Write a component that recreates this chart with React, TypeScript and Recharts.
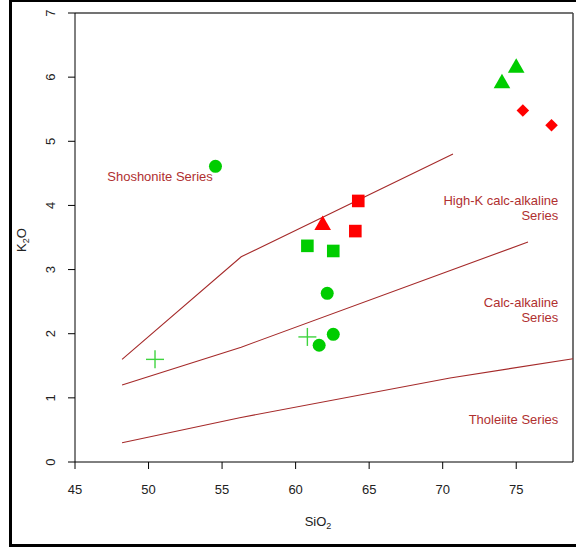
import { ScatterChart, Scatter, XAxis, YAxis, ReferenceLine } from 'recharts'

document.body.style.margin = '0'

const FONT = "Arial, 'Liberation Sans', sans-serif"
const BROWN = '#A52A2A'
const GREEN = '#00CD00'
const RED = '#FF0000'

const xTicks = [45, 50, 55, 60, 65, 70, 75]
const yTicks = [0, 1, 2, 3, 4, 5, 6, 7]

// samples (SiO2, K2O)
const greenCircles = [
  { x: 54.55, y: 4.61 },
  { x: 62.15, y: 2.63 },
  { x: 62.56, y: 1.99 },
  { x: 61.6, y: 1.82 },
]
const greenSquares = [
  { x: 60.8, y: 3.37 },
  { x: 62.56, y: 3.29 },
]
const greenTriangles = [
  { x: 74.03, y: 5.93 },
  { x: 75.0, y: 6.17 },
]
const greenCrosses = [
  { x: 50.44, y: 1.6 },
  { x: 60.8, y: 1.95 },
]
const redTriangles = [{ x: 61.84, y: 3.72 }]
const redSquares = [
  { x: 64.26, y: 4.07 },
  { x: 64.06, y: 3.6 },
]
const redDiamonds = [
  { x: 75.45, y: 5.48 },
  { x: 77.4, y: 5.25 },
]

// field boundaries
const shoshoniteLine = [
  { x: 48.2, y: 1.6 },
  { x: 56.3, y: 3.2 },
  { x: 70.7, y: 4.8 },
]
const highKLine = [
  { x: 48.2, y: 1.2 },
  { x: 56.3, y: 1.79 },
  { x: 75.8, y: 3.43 },
]
const tholeiiteLine = [
  { x: 48.2, y: 0.3 },
  { x: 56.2, y: 0.69 },
  { x: 70.5, y: 1.31 },
  { x: 78.86, y: 1.61 },
]

const fieldLabels = [
  { x: 50.78, y: 4.45, text: 'Shoshonite Series', anchor: 'middle' },
  { x: 77.86, y: 4.08, text: 'High-K calc-alkaline', anchor: 'end' },
  { x: 77.86, y: 3.84, text: 'Series', anchor: 'end' },
  { x: 77.86, y: 2.49, text: 'Calc-alkaline', anchor: 'end' },
  { x: 77.86, y: 2.25, text: 'Series', anchor: 'end' },
  { x: 77.86, y: 0.67, text: 'Tholeiite Series', anchor: 'end' },
]

const none = () => <g />

const circle = (fill: string) => (p: any) => <circle cx={p.cx} cy={p.cy} r={6.5} fill={fill} />
const square = (fill: string) => (p: any) => (
  <rect x={p.cx - 6.3} y={p.cy - 6.3} width={12.6} height={12.6} fill={fill} />
)
const triangle = (fill: string) => (p: any) => (
  <polygon
    points={`${p.cx},${p.cy - 8} ${p.cx + 8.3},${p.cy + 6.5} ${p.cx - 8.3},${p.cy + 6.5}`}
    fill={fill}
  />
)
const diamond = (fill: string) => (p: any) => (
  <polygon
    points={`${p.cx},${p.cy - 6.3} ${p.cx + 6.3},${p.cy} ${p.cx},${p.cy + 6.3} ${p.cx - 6.3},${p.cy}`}
    fill={fill}
  />
)
const cross = (stroke: string) => (p: any) => (
  <g stroke={stroke} strokeWidth={1.4}>
    <line x1={p.cx - 9} y1={p.cy} x2={p.cx + 9} y2={p.cy} />
    <line x1={p.cx} y1={p.cy - 9} x2={p.cx} y2={p.cy + 9} />
  </g>
)

const fieldText = (p: any) => (
  <text
    x={p.cx}
    y={p.cy}
    dy="0.36em"
    textAnchor={p.payload.anchor}
    fontSize={13}
    fontFamily={FONT}
    fill="#B03030"
  >
    {p.payload.text}
  </text>
)

const YTick = (p: any) => (
  <text
    x={p.x}
    y={p.y}
    transform={`rotate(-90 ${p.x} ${p.y})`}
    textAnchor="middle"
    fontSize={13}
    fontFamily={FONT}
    fill="#222"
  >
    {p.payload.value}
  </text>
)

const XTitle = (p: any) => {
  const vb = p.viewBox
  return (
    <text x={vb.x + 243} y={526} textAnchor="middle" fontSize={13} fontFamily={FONT} fill="#222">
      SiO
      <tspan fontSize={9} dy={3}>2</tspan>
    </text>
  )
}

const YTitle = () => (
  <text
    x={26}
    y={240}
    transform="rotate(-90 26 240)"
    textAnchor="middle"
    fontSize={13}
    fontFamily={FONT}
    fill="#222"
  >
    K
    <tspan fontSize={9} dy={3}>2</tspan>
    <tspan dy={-3}>O</tspan>
  </text>
)

export default function App() {
  return (
    <div style={{ position: 'relative', width: 576, height: 552, overflow: 'hidden', background: '#fff' }}>
      <div
        style={{
          position: 'absolute',
          left: 9,
          top: -1,
          width: 580,
          height: 548,
          border: '3px solid #000',
          boxSizing: 'border-box',
        }}
      />
      <ScatterChart width={576} height={552} margin={{ top: 13, right: 3, bottom: 0, left: 0 }}>
        <XAxis
          type="number"
          dataKey="x"
          domain={[45, 78.86]}
          ticks={xTicks}
          tickSize={7}
          tickMargin={16}
          height={90}
          axisLine={{ stroke: '#000' }}
          tickLine={{ stroke: '#000' }}
          tick={{ fontSize: 13, fontFamily: FONT, fill: '#222' }}
          label={XTitle}
        />
        <YAxis
          type="number"
          dataKey="y"
          domain={[0, 7]}
          ticks={yTicks}
          tickSize={7}
          tickMargin={13}
          width={75}
          axisLine={{ stroke: '#000' }}
          tickLine={{ stroke: '#000' }}
          tick={YTick}
          label={YTitle}
        />
        <ReferenceLine y={7} stroke="#444" strokeWidth={1.5} />
        <ReferenceLine x={78.86} stroke="#444" strokeWidth={1.5} />
        <Scatter data={shoshoniteLine} line={{ stroke: BROWN, strokeWidth: 1.1 }} shape={none} isAnimationActive={false} />
        <Scatter data={highKLine} line={{ stroke: BROWN, strokeWidth: 1.1 }} shape={none} isAnimationActive={false} />
        <Scatter data={tholeiiteLine} line={{ stroke: BROWN, strokeWidth: 1.1 }} shape={none} isAnimationActive={false} />
        <Scatter data={fieldLabels} shape={fieldText} isAnimationActive={false} />
        <Scatter data={greenCircles} shape={circle(GREEN)} isAnimationActive={false} />
        <Scatter data={greenSquares} shape={square(GREEN)} isAnimationActive={false} />
        <Scatter data={greenTriangles} shape={triangle(GREEN)} isAnimationActive={false} />
        <Scatter data={greenCrosses} shape={cross('#3FD43F')} isAnimationActive={false} />
        <Scatter data={redTriangles} shape={triangle(RED)} isAnimationActive={false} />
        <Scatter data={redSquares} shape={square(RED)} isAnimationActive={false} />
        <Scatter data={redDiamonds} shape={diamond(RED)} isAnimationActive={false} />
      </ScatterChart>
    </div>
  )
}
